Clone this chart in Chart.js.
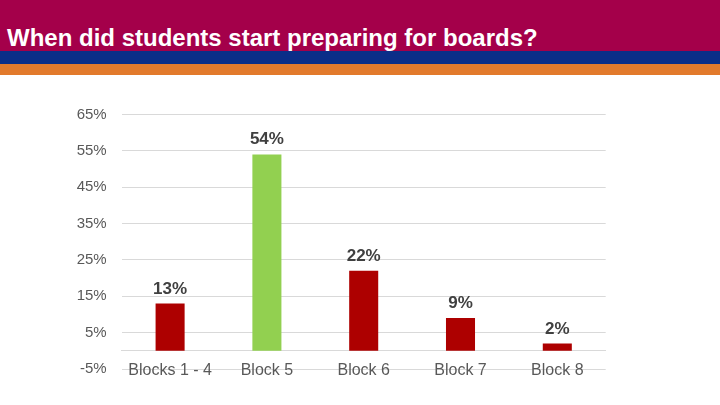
<!DOCTYPE html>
<html>
<head>
<meta charset="utf-8">
<script src="https://cdn.jsdelivr.net/npm/chart.js@4/dist/chart.umd.min.js"></script>
<style>
  html, body { margin: 0; padding: 0; background: #ffffff; width: 720px; height: 405px; overflow: hidden; }
  #band1 { position: absolute; left: 0; top: 0; width: 720px; height: 51px; background: #A4004A; }
  #band2 { position: absolute; left: 0; top: 51px; width: 720px; height: 12.5px; background: #0B2E88; }
  #band3 { position: absolute; left: 0; top: 63.5px; width: 720px; height: 11.5px; background: #E27A2C; }
  #title { position: absolute; left: 7px; top: 25.7px; font-family: "Liberation Sans", Arial, sans-serif; font-weight: bold; font-size: 24px; line-height: 1; color: #ffffff; white-space: nowrap; }
  #wrap { position: absolute; left: 0; top: 0; width: 720px; height: 405px; }
</style>
</head>
<body>
<div id="band1"></div>
<div id="band2"></div>
<div id="band3"></div>
<div id="title">When did students start preparing for boards?</div>
<div id="wrap"><canvas id="c" width="720" height="405"></canvas></div>
<script>
const categories = ["Blocks 1 - 4", "Block 5", "Block 6", "Block 7", "Block 8"];
const values = [13, 54, 22, 9, 2];
const barColors = ["#AD0000", "#92D050", "#AD0000", "#AD0000", "#AD0000"];
const yMin = -5, yMax = 65, yStep = 10;

const valueLabels = {
  id: 'valueLabels',
  afterDatasetsDraw(chart) {
    const ctx = chart.ctx;
    const meta = chart.getDatasetMeta(0);
    ctx.save();
    ctx.font = 'bold 17px "Liberation Sans", Arial, sans-serif';
    ctx.fillStyle = '#404040';
    ctx.textAlign = 'center';
    ctx.textBaseline = 'alphabetic';
    meta.data.forEach((bar, i) => {
      ctx.fillText(values[i] + '%', bar.x, bar.y - 10);
    });
    ctx.restore();
  }
};

new Chart(document.getElementById('c'), {
  type: 'bar',
  data: {
    labels: categories,
    datasets: [{
      data: values,
      backgroundColor: barColors,
      borderWidth: 0,
      barPercentage: 0.3,
      categoryPercentage: 1.0
    }]
  },
  options: {
    responsive: false,
    animation: false,
    devicePixelRatio: 1,
    layout: { padding: { left: 0, top: 114.5, right: 114.3, bottom: 36 } },
    plugins: { legend: { display: false }, tooltip: { enabled: false } },
    scales: {
      x: {
        position: { y: 0 },
        grid: { display: true, drawOnChartArea: false, drawTicks: false },
        border: { display: true, color: '#D9D9D9', width: 1 },
        ticks: {
          padding: 10.5,
          color: '#595959',
          font: { family: '"Liberation Sans", Arial, sans-serif', size: 16 }
        }
      },
      y: {
        min: yMin,
        max: yMax,
        afterFit(scale) { scale.width = 121.7; },
        grid: { color: '#D9D9D9', lineWidth: 1, drawTicks: false },
        border: { display: false },
        ticks: {
          stepSize: yStep,
          padding: 15,
          color: '#595959',
          font: { family: '"Liberation Sans", Arial, sans-serif', size: 15 },
          callback: (v) => v + '%'
        }
      }
    }
  },
  plugins: [valueLabels]
});
</script>
</body>
</html>
